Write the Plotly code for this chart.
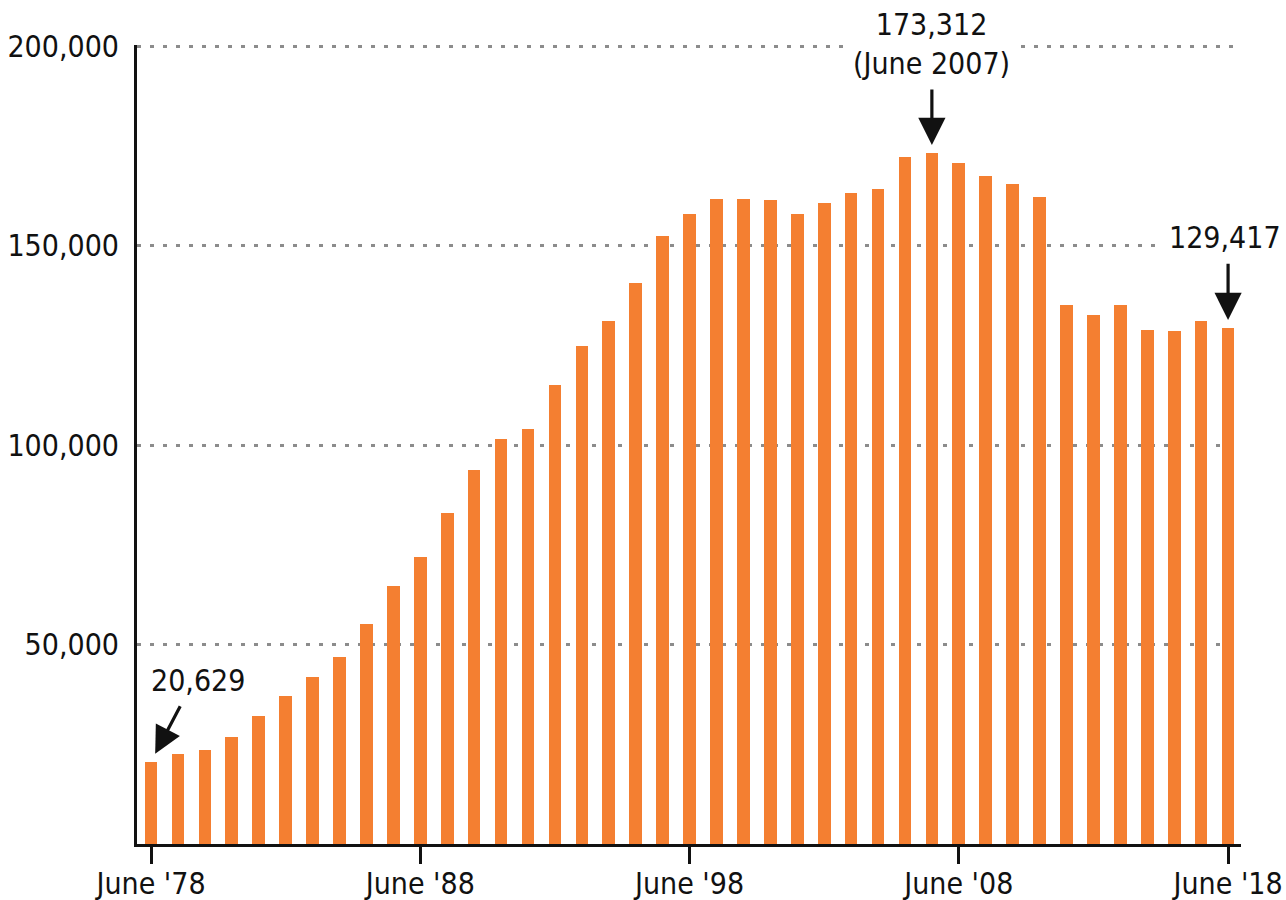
import plotly.graph_objects as go

years = list(range(1978, 2019))
values = [
    20629, 22500, 23500, 26800, 32000, 37000, 41800, 47000, 55100, 64600,
    72100, 82900, 93700, 101700, 104200, 115200, 124800, 131300, 140800, 152400,
    158100, 161900, 161900, 161400, 157900, 160700, 163400, 164200, 172400, 173312,
    170900, 167600, 165600, 162400, 135300, 132800, 135300, 128800, 128600, 131100,
    129417,
]
x_tick_vals = [1978, 1988, 1998, 2008, 2018]
x_tick_text = ["June '78", "June '88", "June '98", "June '08", "June '18"]
y_tick_vals = [50000, 100000, 150000, 200000]
y_tick_text = ["50,000", "100,000", "150,000", "200,000"]

FONT = "DejaVu Sans Condensed, Liberation Sans Narrow, sans-serif"
BAR = "#F47F31"
INK = "#111111"

fig = go.Figure()
fig.add_trace(go.Bar(x=years, y=values, width=0.47, marker=dict(color=BAR, line=dict(width=0)),
                     hoverinfo="x+y"))

ann = []


def arrow(x, y, ax, ay, standoff):
    return dict(x=x, y=y, xref="x", yref="y", ax=ax, ay=ay, axref="pixel", ayref="pixel",
                showarrow=True, arrowhead=2, arrowsize=1.7, arrowwidth=3.2, arrowcolor=INK,
                standoff=standoff, text="")


ann.append(arrow(years[0], values[0], 30, -57, 9))
ann.append(arrow(years[29], values[29], 0, -66, 8))
ann.append(arrow(years[-1], values[-1], 0, -66, 8))

ann.append(dict(x=years[0], y=values[0], xref="x", yref="y", text="20,629", showarrow=False,
                xshift=47, yshift=81, font=dict(family=FONT, size=30, color=INK)))
ann.append(dict(x=years[29], y=values[29], xref="x", yref="y", text="173,312<br>(June 2007)",
                showarrow=False, xshift=0, yshift=109, bgcolor="white", borderpad=8,
                font=dict(family=FONT, size=30, color=INK)))
ann.append(dict(x=years[-1], y=values[-1], xref="x", yref="y", text="129,417",
                showarrow=False, xshift=-3, yshift=91, bgcolor="white", borderpad=8,
                font=dict(family=FONT, size=30, color=INK)))

fig.update_layout(
    width=1286, height=900,
    margin=dict(l=137, r=45, t=45, b=56),
    paper_bgcolor="white", plot_bgcolor="white",
    showlegend=False,
    bargap=0,
    annotations=ann,
    font=dict(family=FONT, size=30, color=INK),
)
fig.update_xaxes(
    range=[1977.48, 2018.48], tickmode="array", tickvals=x_tick_vals, ticktext=x_tick_text,
    showline=True, linecolor=INK, linewidth=3, ticks="outside", ticklen=17,
    tickwidth=2.5, tickcolor=INK, showgrid=False, zeroline=False,
    tickfont=dict(family=FONT, size=30, color=INK), automargin=False,
    ticklabelstandoff=-6,
)
fig.update_yaxes(
    range=[0, 200400], tickmode="array", tickvals=y_tick_vals, ticktext=y_tick_text,
    showline=True, linecolor=INK, linewidth=3, ticks="", showgrid=True,
    gridcolor="#8c8c8c", gridwidth=2.5, griddash="4px,9px", zeroline=False,
    tickfont=dict(family=FONT, size=30, color=INK), automargin=False,
    ticklabelstandoff=9,
)

fig.write_html("out.html", config={"displayModeBar": False},
               post_script="document.body.style.margin='0';")
